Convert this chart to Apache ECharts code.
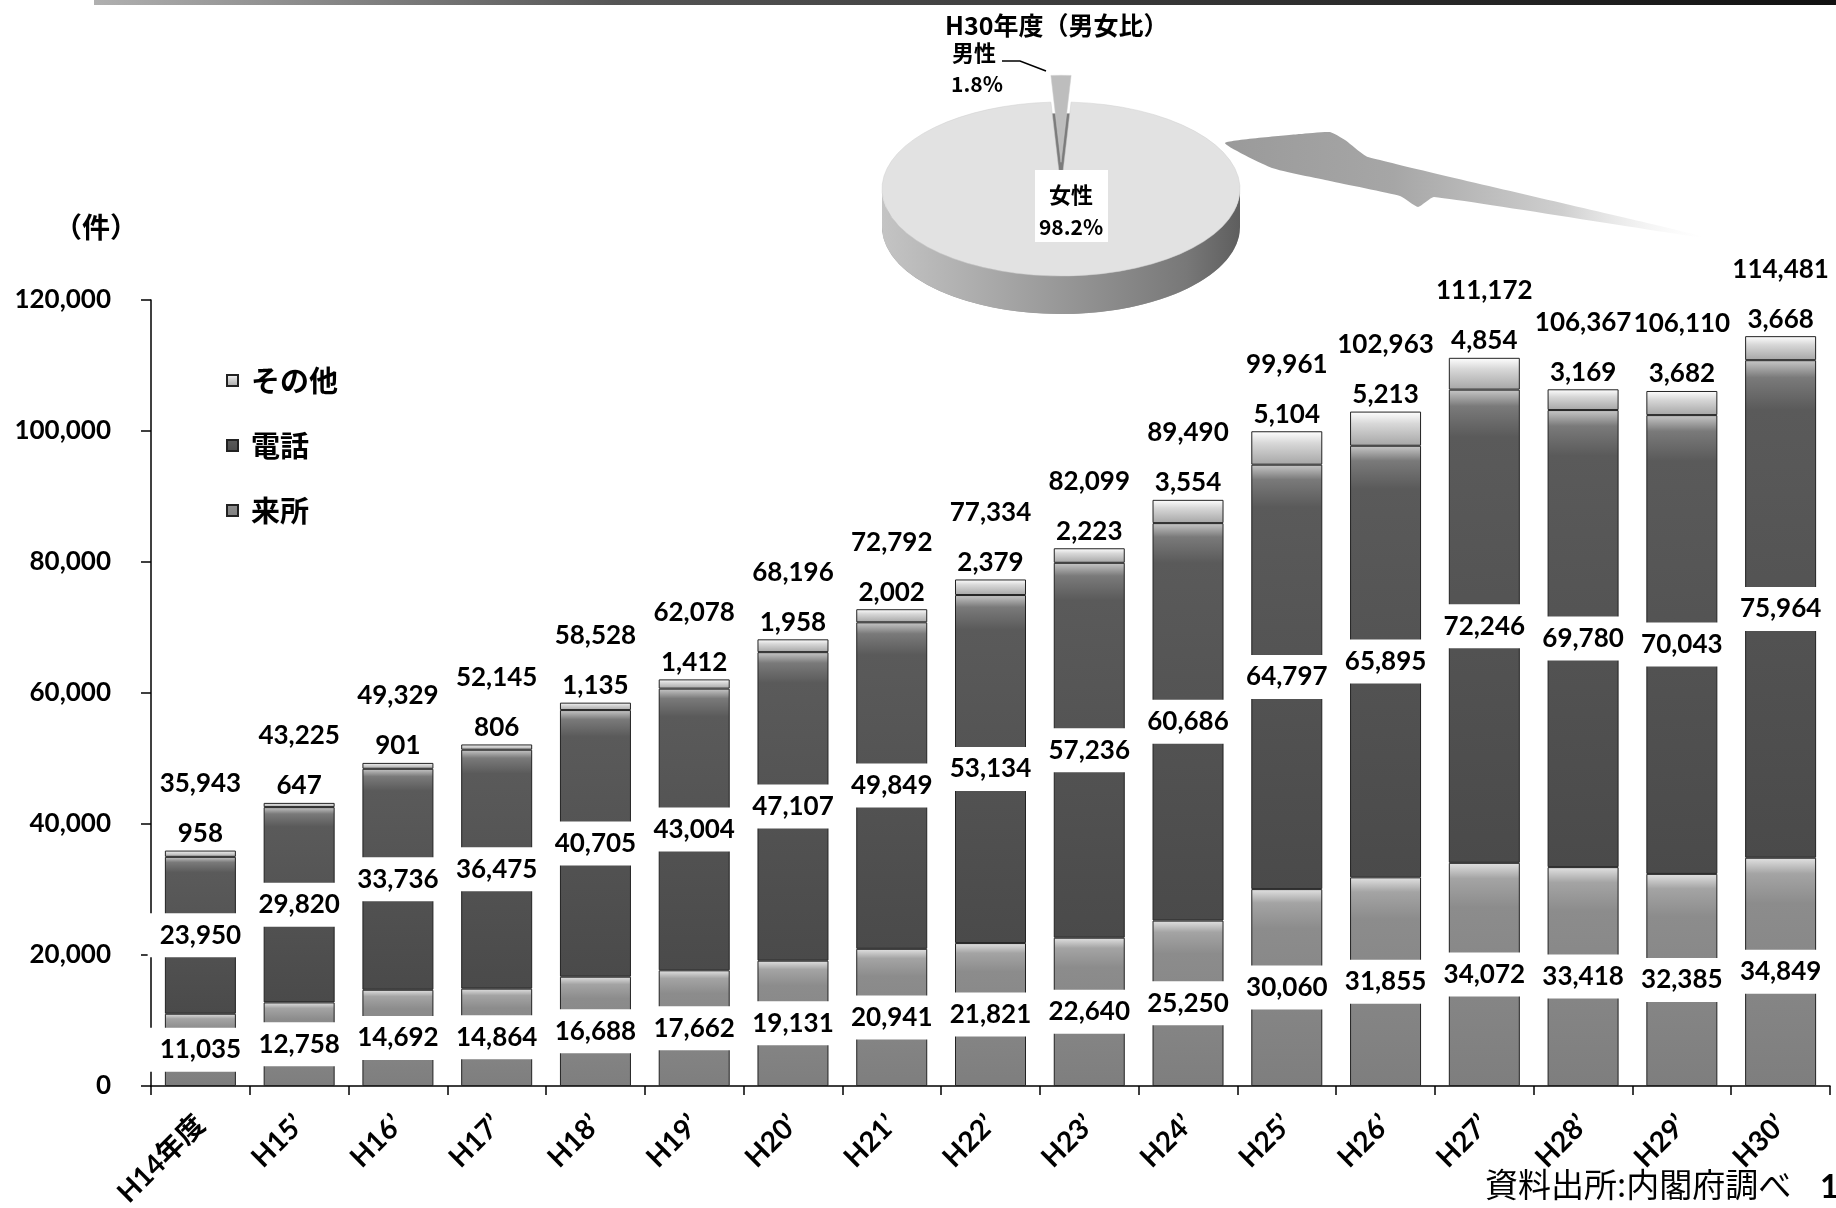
<!DOCTYPE html>
<html>
<head>
<meta charset="utf-8">
<script src="https://cdn.jsdelivr.net/npm/echarts@6/dist/echarts.min.js"></script>
<style>
  html, body { margin: 0; padding: 0; background: #fff; }
  #chart { width: 1836px; height: 1208px; }
</style>
</head>
<body>
<div id="chart"></div>
<script>
// Consultation counts by fiscal year (件)
const years = ['H14年度', 'H15’', 'H16’', 'H17’', 'H18’', 'H19’', 'H20’', 'H21’', 'H22’',
  'H23’', 'H24’', 'H25’', 'H26’', 'H27’', 'H28’', 'H29’', 'H30’'];
const visits = [11035, 12758, 14692, 14864, 16688, 17662, 19131, 20941, 21821,
  22640, 25250, 30060, 31855, 34072, 33418, 32385, 34849];
const calls = [23950, 29820, 33736, 36475, 40705, 43004, 47107, 49849, 53134,
  57236, 60686, 64797, 65895, 72246, 69780, 70043, 75964];
const others = [958, 647, 901, 806, 1135, 1412, 1958, 2002, 2379,
  2223, 3554, 5104, 5213, 4854, 3169, 3682, 3668];
const totals = [35943, 43225, 49329, 52145, 58528, 62078, 68196, 72792, 77334,
  82099, 89490, 99961, 102963, 111172, 106367, 106110, 114481];
const yTicks = [0, 20000, 40000, 60000, 80000, 100000, 120000];

// H30 share by sex (%)
const sexNames = ['男性', '女性'];
const sexShares = [1.8, 98.2];

const NUM_FONT = 'Lato, "Noto Sans CJK JP", sans-serif';
const JP_FONT = '"Noto Sans CJK JP", sans-serif';
const NARROW_FONT = '"Liberation Sans Narrow", "Noto Sans CJK JP", sans-serif';
const fmt = v => Number(v).toLocaleString('en-US');
const vGrad = stops => new echarts.graphic.LinearGradient(0, 0, 0, 1,
  stops.map(s => ({ offset: s[0], color: s[1] })));
const hGrad = stops => new echarts.graphic.LinearGradient(0, 0, 1, 0,
  stops.map(s => ({ offset: s[0], color: s[1] })));

// label sitting on a white plate in the middle of a segment
const plateLabel = {
  show: true, position: 'inside', formatter: p => fmt(p.value),
  color: '#000', fontFamily: NUM_FONT, fontWeight: 'bold', fontSize: 26, lineHeight: 26,
  backgroundColor: '#fff', padding: [9, 12]
};

// 3D-looking pie drawn on an ellipse
const PIE = { cx: 1061, cy: 189, rx: 179, ry: 87, depth: 38, explode: 55 };

function renderSexSlice(params, api) {
  const i = params.dataIndex;
  const sum = sexShares.reduce((a, b) => a + b, 0);
  let start = -Math.PI / 2 - sexShares[0] / sum * Math.PI; // first slice centred at 12 o'clock
  for (let k = 0; k < i; k++) start += sexShares[k] / sum * 2 * Math.PI;
  const span = api.value(0) / sum * 2 * Math.PI;
  const end = start + span;
  const mid = (start + end) / 2;
  const off = i === 0 ? PIE.explode : 0;
  const cx = PIE.cx + off * Math.cos(mid);
  const cy = PIE.cy + off * Math.sin(mid) * PIE.ry / PIE.rx;
  const pt = (t, dy) => [cx + PIE.rx * Math.cos(t), cy + (dy || 0) + PIE.ry * Math.sin(t)];
  const large = span > Math.PI ? 1 : 0;
  const face = dy => {
    const a = pt(start, dy), b = pt(end, dy);
    return `M${cx},${cy + dy}L${a[0]},${a[1]}A${PIE.rx},${PIE.ry} 0 ${large} 1 ${b[0]},${b[1]}Z`;
  };
  const children = [];
  children.push({ type: 'path', shape: { pathData: face(PIE.depth) },
    style: { fill: i === 0 ? '#7c7c7c' : '#9c9c9c' } });
  const a0 = Math.max(start, 0), b0 = Math.min(end, Math.PI);
  if (b0 > a0) {
    const p1 = pt(a0), p2 = pt(b0), p3 = pt(b0, PIE.depth), p4 = pt(a0, PIE.depth);
    const big = (b0 - a0) > Math.PI ? 1 : 0;
    children.push({ type: 'path', shape: { pathData:
      `M${p1[0]},${p1[1]}A${PIE.rx},${PIE.ry} 0 ${big} 1 ${p2[0]},${p2[1]}L${p3[0]},${p3[1]}` +
      `A${PIE.rx},${PIE.ry} 0 ${big} 0 ${p4[0]},${p4[1]}Z` },
      style: { fill: hGrad([[0, '#c4c4c4'], [0.45, '#9c9c9c'], [0.85, '#787878'], [1, '#5e5e5e']]) } });
  }
  children.push({ type: 'path', shape: { pathData: face(0) },
    style: { fill: i === 0 ? '#bdbdbd' : '#e2e2e2', stroke: '#cfcfcf', lineWidth: 0.5 } });

  const pct = api.value(0).toFixed(1) + '%';
  if (i === 0) {
    children.push({ type: 'polyline', shape: { points: [[1002, 61], [1020, 61], [1046, 71]] },
      style: { stroke: '#000', lineWidth: 1.5, fill: null } });
    children.push({ type: 'text', x: 974, y: 53, style: { text: sexNames[i], fill: '#000',
      font: `bold 22px ${JP_FONT}`, align: 'center', verticalAlign: 'middle' } });
    children.push({ type: 'text', x: 977, y: 84, style: { text: pct, fill: '#000',
      font: `bold 21px ${NARROW_FONT}`, align: 'center', verticalAlign: 'middle' } });
  } else {
    children.push({ type: 'rect', shape: { x: 1035, y: 170, width: 73, height: 72 },
      style: { fill: '#fff' } });
    children.push({ type: 'text', x: 1071, y: 195, style: { text: sexNames[i], fill: '#000',
      font: `bold 22px ${JP_FONT}`, align: 'center', verticalAlign: 'middle' } });
    children.push({ type: 'text', x: 1071, y: 227, style: { text: pct, fill: '#000',
      font: `bold 21px ${NARROW_FONT}`, align: 'center', verticalAlign: 'middle' } });
  }
  return { type: 'group', children };
}

const chart = echarts.init(document.getElementById('chart'), null, { renderer: 'canvas' });

chart.setOption({
  animation: false,
  backgroundColor: '#fff',
  grid: { left: 151, right: 6, top: 300, bottom: 122, containLabel: false, outerBoundsMode: 'none' },
  legend: {
    orient: 'vertical', left: 221, top: 361, itemWidth: 11, itemHeight: 11, itemGap: 36,
    icon: 'rect',
    data: ['その他', '電話', '来所'],
    textStyle: { fontFamily: JP_FONT, fontWeight: 'bold', fontSize: 29, color: '#000',
      padding: [0, 0, 0, 8] }
  },
  xAxis: {
    type: 'category', data: years,
    axisLine: { show: true, lineStyle: { color: '#000', width: 1.5 } },
    axisTick: { show: true, length: 9, interval: 0, lineStyle: { color: '#000', width: 1.5 } },
    axisLabel: { interval: 0, rotate: 45, margin: 34, color: '#000', fontFamily: NUM_FONT,
      fontWeight: 'bold', fontSize: 28 },
    splitLine: { show: false }
  },
  yAxis: {
    type: 'value', min: yTicks[0], max: yTicks[yTicks.length - 1], interval: yTicks[1] - yTicks[0],
    axisLine: { show: true, lineStyle: { color: '#000', width: 1.5 } },
    axisTick: { show: true, length: 10, lineStyle: { color: '#000', width: 1.5 } },
    axisLabel: { formatter: v => fmt(v), margin: 40, color: '#000', fontFamily: NUM_FONT,
      fontWeight: 'bold', fontSize: 26 },
    splitLine: { show: false }
  },
  series: [
    {
      name: '来所', type: 'bar', stack: 'count', data: visits, barWidth: 71, barGap: '-100%',
      itemStyle: { color: vGrad([[0, '#e2e2e2'], [0.07, '#a4a4a4'], [0.2, '#8c8c8c'], [1, '#7e7e7e']]),
        borderColor: '#222', borderWidth: 1 },
      label: plateLabel
    },
    {
      name: '電話', type: 'bar', stack: 'count', data: calls, barWidth: 71, barGap: '-100%',
      itemStyle: { color: vGrad([[0, '#c8c8c8'], [0.035, '#7a7a7a'], [0.1, '#5a5a5a'], [1, '#4a4a4a']]),
        borderColor: '#222', borderWidth: 1 },
      label: plateLabel
    },
    {
      name: 'その他', type: 'bar', stack: 'count', data: others, barWidth: 71, barGap: '-100%',
      itemStyle: { color: vGrad([[0, '#ffffff'], [0.35, '#d8d8d8'], [1, '#a6a6a6']]),
        borderColor: '#222', borderWidth: 1 },
      label: { show: true, position: 'top', distance: 4, formatter: p => fmt(p.value),
        color: '#000', fontFamily: NUM_FONT, fontWeight: 'bold', fontSize: 26 }
    },
    {
      // stack total, shown only through its label above each column
      name: '合計', type: 'bar', data: totals, barWidth: 71, barGap: '-100%', z: 1,
      itemStyle: { color: 'rgba(255,255,255,0)', borderWidth: 0 }, silent: true,
      label: { show: true, position: 'top', distance: 54, formatter: p => fmt(p.value),
        color: '#000', fontFamily: NUM_FONT, fontWeight: 'bold', fontSize: 26 }
    },
    {
      name: 'H30男女比', type: 'custom', coordinateSystem: 'none', silent: true, z: 6,
      data: sexShares, renderItem: renderSexSlice, clip: false
    }
  ],
  graphic: [
    // dark rule along the top of the page
    { type: 'rect', left: 94, top: 0, shape: { width: 1742, height: 5 },
      style: { fill: hGrad([[0, '#b0b0b0'], [0.3, '#555'], [1, '#111']]) }, z: 1 },
    // swoosh arrow from the pie toward the last bar
    { type: 'polygon', z: 1, shape: { points: [
        [1225, 143], [1300, 134], [1330, 132], [1345, 140], [1368, 157], [1708, 238],
        [1434, 197], [1418, 207], [1400, 196], [1330, 181], [1272, 168]], smooth: 0.15 },
      style: { fill: hGrad([[0, '#9a9a9a'], [0.35, '#a6a6a6'], [0.7, '#cfcfcf'], [1, 'rgba(255,255,255,0.2)']]) } },
    { type: 'text', left: 945, top: 13, z: 10,
      style: { text: 'H30年度（男女比）', fill: '#000', font: `bold 25px ${JP_FONT}` } },
    { type: 'text', left: 54, top: 213, z: 10,
      style: { text: '（件）', fill: '#000', font: `bold 28px ${JP_FONT}` } },
    { type: 'text', left: 1485, top: 1168, z: 10,
      style: { text: '資料出所:内閣府調べ', fill: '#000', font: `33px ${JP_FONT}` } },
    { type: 'text', left: 1820, top: 1172, z: 10,
      style: { text: '1', fill: '#000', font: `bold 32px ${NUM_FONT}` } }
  ]
});
</script>
</body>
</html>
